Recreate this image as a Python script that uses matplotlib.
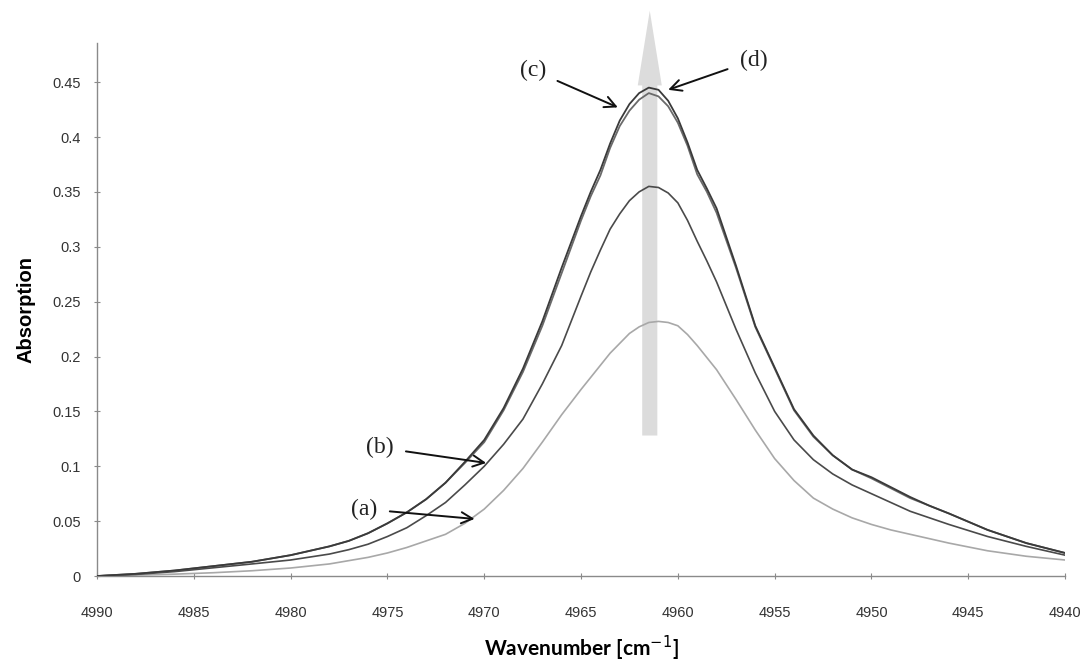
import matplotlib
matplotlib.use("Agg")
import matplotlib.pyplot as plt
from matplotlib.patches import Polygon

wn = [4990, 4988, 4986, 4984, 4982, 4980, 4978,
      4977, 4976, 4975, 4974, 4973, 4972, 4971, 4970,
      4969, 4968, 4967, 4966, 4965,
      4964.5, 4964, 4963.5, 4963, 4962.5, 4962, 4961.5, 4961, 4960.5, 4960, 4959.5, 4959, 4958.5, 4958,
      4957, 4956, 4955, 4954, 4953, 4952, 4951, 4950,
      4949, 4948, 4947, 4946,
      4944, 4942, 4940]

abs_a = [0.0, 0.0008, 0.0017, 0.003, 0.0048, 0.0073, 0.011,
         0.014, 0.017, 0.021, 0.026, 0.032, 0.038, 0.048, 0.061,
         0.078, 0.098, 0.122, 0.147, 0.170,
         0.181, 0.192, 0.203, 0.212, 0.221, 0.227, 0.231, 0.232, 0.231, 0.228, 0.220, 0.210, 0.199, 0.188,
         0.161, 0.133, 0.107, 0.087, 0.071, 0.061, 0.053, 0.047,
         0.042, 0.038, 0.034, 0.030,
         0.023, 0.018, 0.0146]

abs_b = [0.0, 0.0015, 0.004, 0.0075, 0.011, 0.0146, 0.020,
         0.024, 0.029, 0.036, 0.044, 0.055, 0.067, 0.083, 0.100,
         0.120, 0.143, 0.175, 0.210, 0.255,
         0.277, 0.297, 0.316, 0.330, 0.342, 0.350, 0.355, 0.354, 0.349, 0.340, 0.324, 0.305, 0.287, 0.268,
         0.225, 0.185, 0.150, 0.124, 0.106, 0.093, 0.083, 0.075,
         0.067, 0.059, 0.053, 0.047,
         0.036, 0.027, 0.019]

abs_c = [0.0, 0.002, 0.005, 0.009, 0.013, 0.019, 0.027,
         0.032, 0.039, 0.048, 0.058, 0.070, 0.085, 0.103, 0.122,
         0.151, 0.186, 0.228, 0.276, 0.324,
         0.346, 0.365, 0.390, 0.410, 0.424, 0.434, 0.440, 0.437, 0.428, 0.413, 0.392, 0.366, 0.350, 0.331,
         0.281, 0.227, 0.189, 0.151, 0.127, 0.110, 0.097, 0.089,
         0.080, 0.071, 0.064, 0.057,
         0.042, 0.030, 0.021]

abs_d = [0.0, 0.002, 0.005, 0.009, 0.013, 0.019, 0.027,
         0.032, 0.039, 0.048, 0.058, 0.070, 0.085, 0.104, 0.124,
         0.153, 0.189, 0.232, 0.281, 0.328,
         0.350, 0.370, 0.394, 0.415, 0.430, 0.440, 0.445, 0.443, 0.433, 0.417, 0.395, 0.370, 0.353, 0.335,
         0.283, 0.228, 0.190, 0.152, 0.128, 0.110, 0.097, 0.090,
         0.081, 0.072, 0.064, 0.057,
         0.042, 0.030, 0.021]

labels = ["(a)", "(b)", "(c)", "(d)"]
# (text position, arrow tip) in data coords
label_text = [(4976.2, 0.061), (4975.4, 0.117), (4967.5, 0.461), (4956.1, 0.470)]
label_tip = [(4970.5, 0.052), (4969.9, 0.103), (4963.1, 0.427), (4960.5, 0.443)]

yticks = [0, 0.05, 0.1, 0.15, 0.2, 0.25, 0.3, 0.35, 0.4, 0.45]
ytick_labels = ["0", "0.05", "0.1", "0.15", "0.2", "0.25", "0.3", "0.35", "0.4", "0.45"]
xticks = [4990, 4985, 4980, 4975, 4970, 4965, 4960, 4955, 4950, 4945, 4940]

fig = plt.figure(figsize=(10.88, 6.64), dpi=100)
ax = fig.add_axes([0.0892, 0.1325, 0.8897, 0.8025])

# big grey arrow showing the growth of the band
xc, y0, y1 = 4961.45, 0.128, 0.515
sw, hw, hl = 0.39, 0.62, 0.068
arrow_pts = [(xc - sw, y0), (xc + sw, y0), (xc + sw, y1 - hl), (xc + hw, y1 - hl),
             (xc, y1), (xc - hw, y1 - hl), (xc - sw, y1 - hl)]
ax.add_patch(Polygon(arrow_pts, closed=True, facecolor="#dcdcdc", edgecolor="none",
                     zorder=1, clip_on=False))

ax.plot(wn, abs_a, color="#a8a8a8", lw=1.2, zorder=3)
ax.plot(wn, abs_b, color="#4a4a4a", lw=1.2, zorder=3)
ax.plot(wn, abs_c, color="#6a6a6a", lw=1.3, zorder=3)
ax.plot(wn, abs_d, color="#3a3a3a", lw=1.3, zorder=3)

for lab, xt, tip in zip(labels, label_text, label_tip):
    ax.annotate(lab, xy=tip, xytext=xt, ha="center", va="center",
                fontsize=17, family="Liberation Serif", color="#222222",
                arrowprops=dict(arrowstyle="->", color="#111111", lw=1.4,
                                mutation_scale=20, shrinkA=7, shrinkB=0),
                annotation_clip=False, zorder=5)

ax.set_xlim(4990, 4940)
ax.set_ylim(0, 0.4855)
ax.set_xticks(xticks)
ax.set_yticks(yticks)
ax.set_yticklabels(ytick_labels)

for s in ["top", "right"]:
    ax.spines[s].set_visible(False)
for s in ["left", "bottom"]:
    ax.spines[s].set_color("#8a8a8a")
    ax.spines[s].set_linewidth(1.0)

ax.tick_params(axis="both", direction="inout", length=5, color="#8a8a8a",
               labelsize=10.5, labelcolor="#333333")
ax.tick_params(axis="x", pad=19)
ax.tick_params(axis="y", pad=9)
for t in ax.get_xticklabels() + ax.get_yticklabels():
    t.set_family("Liberation Sans")

ax.set_xlabel("Wavenumber [cm$^{-1}$]", fontsize=15, fontweight="bold",
              family="Lato", labelpad=10)
ax.set_ylabel("Absorption", fontsize=14.5, fontweight="bold",
              family="Liberation Sans", labelpad=12)

fig.savefig("out.png", dpi=100)
